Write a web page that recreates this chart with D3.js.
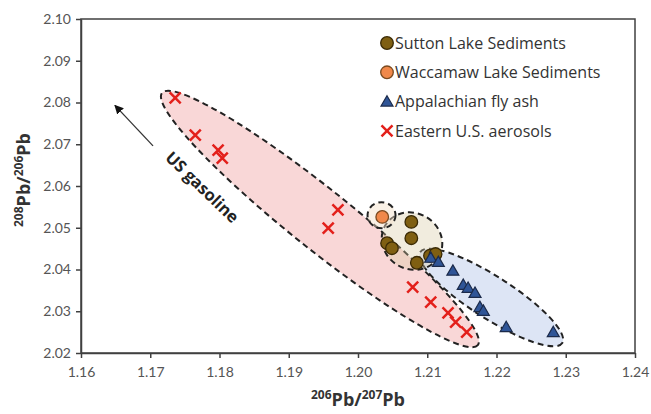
<!DOCTYPE html>
<html>
<head>
<meta charset="utf-8">
<script src="https://cdn.jsdelivr.net/npm/d3@7"></script>
<style>
  body { margin: 0; background: #fff; }
  svg { display: block; font-family: Lato, "Open Sans", sans-serif; }
</style>
</head>
<body>
<svg width="651" height="414"></svg>
<script>
// data
var suttonX = [1.2077, 1.2077, 1.2042, 1.2049, 1.2085, 1.2104, 1.2112];
var suttonY = [2.0514, 2.0475, 2.0463, 2.0451, 2.0416, 2.0433, 2.0437];
var waccamawX = [1.2035];
var waccamawY = [2.0526];
var flyAshX = [1.2105, 1.2116, 1.2137, 1.2152, 1.2159, 1.2169, 1.2176, 1.2181, 1.2214, 1.2282];
var flyAshY = [2.0428, 2.0418, 2.0397, 2.0363, 2.0356, 2.0344, 2.0310, 2.0301, 2.0262, 2.0250];
var aerosolX = [1.1736, 1.1765, 1.1798, 1.1804, 1.1971, 1.1957, 1.2079, 1.2105, 1.2130, 1.2141, 1.2157];
var aerosolY = [2.0811, 2.0722, 2.0686, 2.0667, 2.0543, 2.0499, 2.0358, 2.0322, 2.0296, 2.0274, 2.0250];

var xTicks = [1.16, 1.17, 1.18, 1.19, 1.20, 1.21, 1.22, 1.23, 1.24];
var yTicks = [2.02, 2.03, 2.04, 2.05, 2.06, 2.07, 2.08, 2.09, 2.10];
var legendNames = ["Sutton Lake Sediments", "Waccamaw Lake Sediments", "Appalachian fly ash", "Eastern U.S. aerosols"];

// elongated envelopes: the two ends of the long axis (data units)
var redEnds = [[1.1717, 2.0823], [1.2173, 2.0219]];
var blueEnds = [[1.2090, 2.0442], [1.2295, 2.0224]];
// round envelopes: centre (data units)
var brownCentre = [1.2078, 2.0468];
var orangeCentre = [1.2034, 2.0530];
// gasoline trend arrow (tail, head) and label centre
var arrowEnds = [[1.1704, 2.0696], [1.1649, 2.0793]];
var gasolineAt = [1.1775, 2.0597];

var chart = new function () {
    var svg = d3.select("svg");
    var mLeft = 81, mRight = 635, mTop = 19, mBottom = 353;

    var x = d3.scaleLinear().domain([1.16, 1.24]).range([mLeft, mRight]);
    var y = d3.scaleLinear().domain([2.02, 2.10]).range([mBottom, mTop]);

    var ink = "#404040";

    // envelopes
    function longEllipse(ends, halfWidth) {
        var x1 = x(ends[0][0]), y1 = y(ends[0][1]);
        var x2 = x(ends[1][0]), y2 = y(ends[1][1]);
        var a = Math.hypot(x2 - x1, y2 - y1) / 2;
        var ang = Math.atan2(y2 - y1, x2 - x1) * 180 / Math.PI;
        return { cx: (x1 + x2) / 2, cy: (y1 + y2) / 2, rx: a, ry: halfWidth, ang: ang };
    }
    var envelopes = [
        Object.assign(longEllipse(redEnds, 30), { fill: "rgba(235,130,130,0.32)" }),
        Object.assign(longEllipse(blueEnds, 21), { fill: "rgba(150,175,225,0.32)" }),
        { cx: x(brownCentre[0]), cy: y(brownCentre[1]), rx: 31, ry: 28, ang: 30, fill: "rgba(215,200,160,0.35)" },
        { cx: x(orangeCentre[0]), cy: y(orangeCentre[1]), rx: 14, ry: 13, ang: 0, fill: "rgba(245,225,200,0.45)" }
    ];

    svg.append("g").selectAll("ellipse")
        .data(envelopes)
        .enter().append("ellipse")
        .attr("transform", function(d) { return "translate(" + d.cx + "," + d.cy + ") rotate(" + d.ang + ")"; })
        .attr("rx", function(d) { return d.rx; })
        .attr("ry", function(d) { return d.ry; })
        .attr("fill", function(d) { return d.fill; })
        .attr("stroke", "#222")
        .attr("stroke-width", 2)
        .attr("stroke-dasharray", "6,4");

    // frame
    svg.append("rect")
        .attr("x", mLeft).attr("y", mTop)
        .attr("width", mRight - mLeft).attr("height", mBottom - mTop)
        .attr("fill", "none").attr("stroke", ink).attr("stroke-width", 1.5);

    // axes
    var xAxis = d3.axisBottom(x).tickValues(xTicks).tickFormat(d3.format(".2f")).tickSize(5).tickSizeOuter(0);
    var yAxis = d3.axisLeft(y).tickValues(yTicks).tickFormat(d3.format(".2f")).tickSize(5).tickSizeOuter(0);

    var gx = svg.append("g").attr("transform", "translate(0," + mBottom + ")").call(xAxis);
    var gy = svg.append("g").attr("transform", "translate(" + mLeft + ",0)").call(yAxis);
    [gx, gy].forEach(function(g) {
        g.select(".domain").attr("stroke", ink).attr("stroke-width", 1.5);
        g.selectAll(".tick line").attr("stroke", ink).attr("stroke-width", 1.5);
        g.selectAll(".tick text").attr("fill", "#555").style("font-size", "14px").style("font-family", "Lato, sans-serif");
    });
    gx.selectAll(".tick text").attr("dy", "1.15em");
    gy.selectAll(".tick text").attr("x", -10);

    // axis titles
    function isoTitle(t, a, b) {
        t.append("tspan").attr("dy", -7).style("font-size", "12px").text(a);
        t.append("tspan").attr("dy", 7).text("Pb/");
        t.append("tspan").attr("dy", -7).style("font-size", "12px").text(b);
        t.append("tspan").attr("dy", 7).text("Pb");
    }
    var xt = svg.append("text")
        .attr("x", (mLeft + mRight) / 2).attr("y", 406)
        .attr("text-anchor", "middle")
        .style("font-family", "'Open Sans', sans-serif")
        .style("font-size", "18px").style("font-weight", "bold").attr("fill", "#333");
    isoTitle(xt, "206", "207");

    var yt = svg.append("text")
        .attr("transform", "translate(30,180) rotate(-90)")
        .attr("text-anchor", "middle")
        .style("font-family", "'Open Sans', sans-serif")
        .style("font-size", "18px").style("font-weight", "bold").attr("fill", "#333");
    isoTitle(yt, "208", "206");

    // marker helpers
    var triPath = d3.symbol().type(d3.symbolTriangle).size(62);
    function drawCircle(g, px, py, fill, stroke) {
        g.append("circle").attr("cx", px).attr("cy", py).attr("r", 6.3)
            .attr("fill", fill).attr("stroke", stroke).attr("stroke-width", 1.3);
    }
    function drawTri(g, px, py) {
        g.append("path").attr("d", triPath).attr("transform", "translate(" + px + "," + (py + 1) + ")")
            .attr("fill", "#2f5597").attr("stroke", "#1b2a4a").attr("stroke-width", 1.2);
    }
    function drawCross(g, px, py) {
        var s = 5.5;
        g.append("path")
            .attr("d", "M" + (px - s) + "," + (py - s) + "L" + (px + s) + "," + (py + s) +
                       "M" + (px - s) + "," + (py + s) + "L" + (px + s) + "," + (py - s))
            .attr("stroke", "#e3201b").attr("stroke-width", 2.5).attr("fill", "none");
    }

    var marks = svg.append("g");
    suttonX.forEach(function(v, i) { drawCircle(marks, x(v), y(suttonY[i]), "#7f5f12", "#3a2a05"); });
    waccamawX.forEach(function(v, i) { drawCircle(marks, x(v), y(waccamawY[i]), "#f0884a", "#7a4a20"); });
    flyAshX.forEach(function(v, i) { drawTri(marks, x(v), y(flyAshY[i])); });
    aerosolX.forEach(function(v, i) { drawCross(marks, x(v), y(aerosolY[i])); });

    // gasoline arrow + label
    svg.append("defs").append("marker")
        .attr("id", "head").attr("viewBox", "0 0 10 10")
        .attr("refX", 9).attr("refY", 5)
        .attr("markerWidth", 7).attr("markerHeight", 7)
        .attr("orient", "auto")
        .append("path").attr("d", "M0,0L10,5L0,10z").attr("fill", "#111");

    svg.append("line")
        .attr("x1", x(arrowEnds[0][0])).attr("y1", y(arrowEnds[0][1]))
        .attr("x2", x(arrowEnds[1][0])).attr("y2", y(arrowEnds[1][1]))
        .attr("stroke", "#333").attr("stroke-width", 1.3)
        .attr("marker-end", "url(#head)");

    svg.append("text")
        .attr("transform", "translate(" + x(gasolineAt[0]) + "," + y(gasolineAt[1]) + ") rotate(44)")
        .attr("text-anchor", "middle")
        .attr("dy", "0.35em")
        .style("font-family", "'Open Sans', sans-serif")
        .style("font-size", "16.5px").style("font-weight", "bold").attr("fill", "#222")
        .text("US gasoline");

    // legend
    var legend = svg.append("g");
    legendNames.forEach(function(name, i) {
        var ly = 43 + i * 29.3;
        var lx = 387;
        if (i === 0) drawCircle(legend, lx, ly, "#7f5f12", "#3a2a05");
        if (i === 1) drawCircle(legend, lx, ly, "#f0884a", "#7a4a20");
        if (i === 2) drawTri(legend, lx, ly);
        if (i === 3) drawCross(legend, lx, ly);
        legend.append("text")
            .attr("x", lx + 8).attr("y", ly).attr("dy", "0.35em")
            .style("font-family", "'Open Sans', sans-serif")
            .style("font-size", "16px").attr("fill", "#333")
            .text(name);
    });
};
</script>
</body>
</html>
